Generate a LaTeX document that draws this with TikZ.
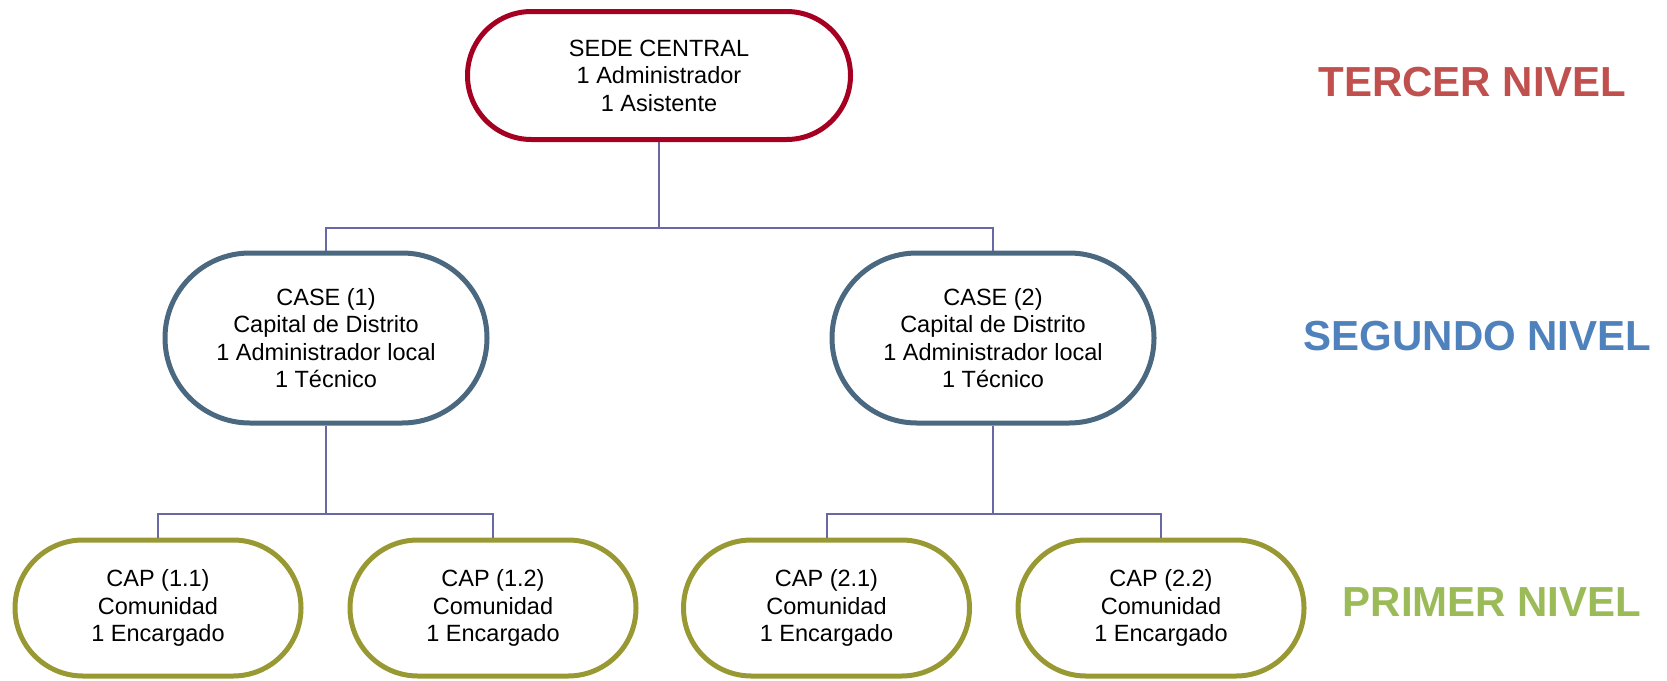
\documentclass[tikz,border=0pt]{standalone}
\usepackage{fontspec}
\setmainfont{Liberation Sans}
\definecolor{topc}{RGB}{165,0,33}
\definecolor{midc}{RGB}{74,104,128}
\definecolor{botc}{RGB}{153,153,51}
\definecolor{conc}{RGB}{104,104,164}
\definecolor{lvlred}{RGB}{192,80,77}
\definecolor{lvlblue}{RGB}{79,129,189}
\definecolor{lvlgreen}{RGB}{155,187,89}
\tikzset{
  box/.style={draw, line width=5pt, fill=white, align=center, inner sep=0pt,
    font=\fontsize{23.5}{27.5}\selectfont},
  topbox/.style={box, draw=topc, minimum width=383pt, minimum height=128pt, rounded corners=63.9pt},
  midbox/.style={box, draw=midc, minimum width=322pt, minimum height=170pt, rounded corners=84.9pt},
  botbox/.style={box, draw=botc, minimum width=286pt, minimum height=136pt, rounded corners=67.9pt},
  conn/.style={draw=conc, line width=2pt},
  lvl/.style={anchor=base, font=\fontsize{42}{48}\selectfont\bfseries}
}
\begin{document}
\begin{tikzpicture}[x=1pt,y=-1pt]
\useasboundingbox (0,0) rectangle (1667,680);
\coordinate (j0) at (659,228);
\coordinate (j1) at (326,514);
\coordinate (j2) at (993,514);
\node[topbox] (sede) at (659,75.5) {SEDE CENTRAL\\1 Administrador\\1 Asistente};
\node[midbox] (case1) at (326,338) {CASE (1)\\Capital de Distrito\\1 Administrador local\\1 Técnico};
\node[midbox] (case2) at (993,338) {CASE (2)\\Capital de Distrito\\1 Administrador local\\1 Técnico};
\node[botbox] (cap11) at (158,608) {CAP (1.1)\\Comunidad\\1 Encargado};
\node[botbox] (cap12) at (493,608) {CAP (1.2)\\Comunidad\\1 Encargado};
\node[botbox] (cap21) at (826.5,608) {CAP (2.1)\\Comunidad\\1 Encargado};
\node[botbox] (cap22) at (1161,608) {CAP (2.2)\\Comunidad\\1 Encargado};
\draw[conn] (sede.south) -- (j0);
\draw[conn] (case1.north) |- (j0) -| (case2.north);
\draw[conn] (case1.south) -- (j1);
\draw[conn] (cap11.north) |- (j1) -| (cap12.north);
\draw[conn] (case2.south) -- (j2);
\draw[conn] (cap21.north) |- (j2) -| (cap22.north);
\node[lvl, text=lvlred] (l3) at (1472.5,96) {TERCER NIVEL};
\node[lvl, text=lvlblue] (l2) at (1477.5,350) {SEGUNDO NIVEL};
\node[lvl, text=lvlgreen] (l1) at (1492,616) {PRIMER NIVEL};
\end{tikzpicture}
\end{document}
